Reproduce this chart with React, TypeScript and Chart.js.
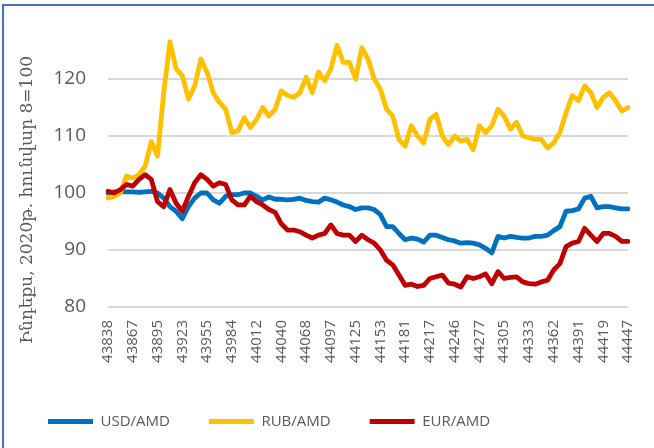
import React, { useEffect, useRef } from "react";
import { Chart, registerables } from "chart.js";

Chart.register(...registerables);

const dates: string[] = [
  "43838", "43845", "43852", "43859",
  "43867", "43874", "43881", "43888",
  "43895", "43902", "43909", "43916",
  "43923", "43930", "43937", "43944",
  "43955", "43962", "43969", "43976",
  "43984", "43991", "43998", "44005",
  "44012", "44019", "44026", "44033",
  "44040", "44047", "44054", "44061",
  "44068", "44075", "44082", "44089",
  "44097", "44104", "44111", "44118",
  "44125", "44132", "44139", "44146",
  "44153", "44160", "44167", "44174",
  "44181", "44188", "44202", "44209",
  "44217", "44224", "44231", "44238",
  "44246", "44253", "44260", "44267",
  "44277", "44284", "44291", "44298",
  "44305", "44312", "44319", "44326",
  "44333", "44340", "44347", "44354",
  "44362", "44369", "44376", "44383",
  "44391", "44398", "44405", "44412",
  "44419", "44426", "44433", "44440",
  "44447",
];

const usd: number[] = [
  100.0, 100.2, 100.2, 100.2, 100.2, 100.1, 100.2, 100.3, 100.0, 99.1,
  97.6, 96.8, 95.5, 97.6, 99.1, 100.0, 100.0, 98.8, 98.2, 99.4,
  99.7, 99.7, 100.0, 100.0, 99.4, 98.8, 99.3, 98.9, 98.9, 98.8,
  98.9, 99.1, 98.7, 98.5, 98.4, 99.1, 98.8, 98.4, 97.9, 97.6,
  97.1, 97.4, 97.4, 97.1, 96.2, 94.1, 94.1, 92.9, 91.8, 92.1,
  91.9, 91.4, 92.6, 92.6, 92.2, 91.8, 91.6, 91.2, 91.3, 91.2,
  90.9, 90.3, 89.5, 92.4, 92.1, 92.4, 92.2, 92.1, 92.1, 92.4,
  92.4, 92.6, 93.4, 94.1, 96.8, 96.9, 97.2, 99.1, 99.4, 97.4,
  97.6, 97.6, 97.4, 97.2, 97.2,
];

const rub: number[] = [
  99.1, 99.4, 100.0, 103.0, 102.6, 103.2, 104.7, 109.0, 106.5, 117.6,
  126.5, 121.8, 120.6, 116.5, 118.8, 123.5, 121.2, 117.6, 115.9, 114.7,
  110.6, 110.9, 113.2, 111.5, 112.9, 115.0, 113.5, 114.7, 117.9, 117.1,
  116.8, 117.6, 120.3, 117.6, 121.2, 119.7, 121.8, 125.9, 122.9, 122.9,
  120.0, 125.5, 123.5, 120.0, 118.2, 114.7, 113.5, 109.4, 108.2, 111.8,
  110.0, 108.8, 112.9, 113.8, 110.0, 108.5, 110.0, 109.1, 109.4, 107.6,
  111.8, 110.6, 111.8, 114.7, 113.5, 111.2, 112.4, 110.0, 109.7, 109.4,
  109.4, 107.9, 108.8, 110.6, 114.1, 117.1, 116.2, 118.8, 117.6, 115.0,
  116.8, 117.6, 116.2, 114.4, 115.0,
];

const eur: number[] = [
  100.3, 100.0, 100.6, 101.5, 101.2, 102.4, 103.2, 102.4, 98.5, 97.6,
  100.6, 98.2, 96.8, 99.4, 101.8, 103.2, 102.4, 101.2, 101.8, 101.5,
  98.8, 97.9, 97.9, 99.4, 98.5, 97.9, 97.1, 96.6, 94.6, 93.5,
  93.5, 93.2, 92.6, 92.1, 92.6, 92.9, 94.4, 92.9, 92.6, 92.6,
  91.5, 92.6, 91.8, 91.2, 90.0, 88.2, 87.4, 85.6, 83.8, 84.0,
  83.6, 83.8, 85.0, 85.3, 85.6, 84.2, 84.0, 83.5, 85.3, 85.0,
  85.3, 85.8, 84.1, 86.2, 85.0, 85.2, 85.3, 84.4, 84.1, 84.0,
  84.4, 84.7, 86.5, 87.6, 90.6, 91.2, 91.5, 93.8, 92.6, 91.5,
  92.9, 92.9, 92.4, 91.5, 91.5,
];

const seriesNames: string[] = ["USD/AMD", "RUB/AMD", "EUR/AMD"];
const seriesColors: string[] = ["#0070C0", "#FFC000", "#C00000"];
const yTicks: number[] = [80, 90, 100, 110, 120];
const yTitle = "Ինդեքս, 2020թ. հունվար 8=100";

const yTitlePlugin = {
  id: "yTitleCustom",
  afterDraw(chart: any) {
    const ctx = chart.ctx;
    ctx.save();
    ctx.translate(28, 200);
    ctx.rotate(-Math.PI / 2);
    ctx.textAlign = "center";
    ctx.textBaseline = "middle";
    ctx.fillStyle = "#595959";
    ctx.font = '17px "DejaVu Serif"';
    ctx.fillText(yTitle, 0, 0);
    ctx.restore();
  },
};

export default function App() {
  const ref = useRef<HTMLCanvasElement | null>(null);

  useEffect(() => {
    if (!ref.current) return;
    const values = [usd, rub, eur];
    const chart = new Chart(ref.current, {
      type: "line",
      data: {
        labels: dates,
        datasets: seriesNames.map((name, i) => ({
          label: name,
          data: values[i],
          borderColor: seriesColors[i],
          backgroundColor: seriesColors[i],
          borderWidth: 4.8,
          pointRadius: 0,
          pointStyle: "line",
          tension: 0,
          borderJoinStyle: "round" as const,
          borderCapStyle: "round" as const,
          order: 3 - i,
        })),
      },
      options: {
        responsive: false,
        animation: false,
        layout: { padding: { left: 9, right: 26, top: 22, bottom: 9 } },
        plugins: {
          tooltip: { enabled: false },
          legend: {
            position: "bottom",
            align: "start",
            labels: {
              usePointStyle: true,
              pointStyleWidth: 45,
              padding: 39,
              color: "#595959",
              font: { family: "'Open Sans'", size: 15 },
              sort: (a: any, b: any) => a.datasetIndex - b.datasetIndex,
            },
          },
        },
        scales: {
          x: {
            type: "category",
            offset: false,
            grid: { display: false, drawTicks: false },
            border: { display: false },
            ticks: {
              autoSkip: false,
              minRotation: 90,
              maxRotation: 90,
              padding: 13,
              color: "#595959",
              font: { family: "'Open Sans'", size: 15 },
              callback: (_v: any, i: number) => (i % 4 === 0 ? dates[i] : ""),
            },
            afterFit: (s: any) => {
              s.height = 68;
              s.paddingLeft = 0;
              s.paddingRight = 0;
            },
          },
          y: {
            min: 80,
            max: 130,
            afterBuildTicks: (s: any) => {
              s.ticks = yTicks.map((v) => ({ value: v }));
            },
            grid: { color: "#D9D9D9", lineWidth: 2, drawTicks: false },
            border: { display: false },
            ticks: {
              padding: 22,
              color: "#595959",
              font: { family: "'Open Sans'", size: 19 },
            },
            afterFit: (s: any) => {
              s.width = 99;
              s.paddingTop = 0;
              s.paddingBottom = 0;
            },
          },
        },
      },
      plugins: [yTitlePlugin],
    });
    return () => chart.destroy();
  }, []);

  return (
    <>
      <div
        style={{
          position: "absolute",
          left: 2,
          top: 4,
          width: 652,
          height: 444,
          boxSizing: "border-box",
          borderLeft: "2px solid #4472C4",
          borderTop: "2px solid #4472C4",
          background: "#ffffff",
        }}
      />
      <canvas
        ref={ref}
        width={654}
        height={448}
        style={{ position: "absolute", left: 0, top: 0, width: 654, height: 448, display: "block" }}
      />
    </>
  );
}
